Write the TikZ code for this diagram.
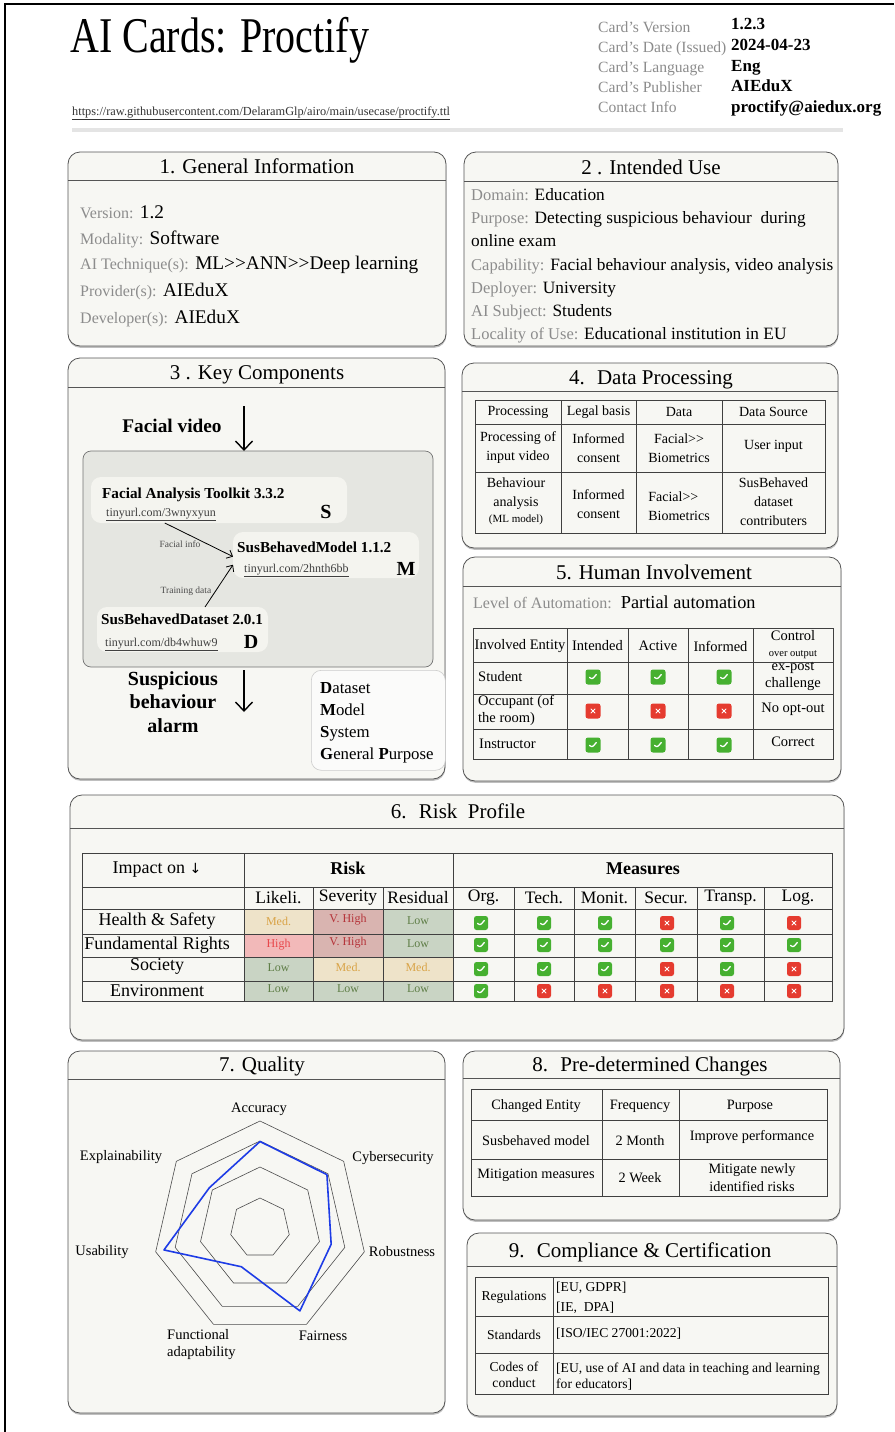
\documentclass[tikz,border=0pt]{standalone}
\usepackage{fontspec}
\setmainfont{Liberation Serif}
\newfontfamily\symfont{DejaVu Sans}
\usetikzlibrary{arrows.meta,shadows,calc}

\definecolor{cardbg}{HTML}{F7F7F3}
\definecolor{labgray}{HTML}{8C8C8C}
\definecolor{edgecol}{HTML}{555555}
\definecolor{innerbg}{HTML}{E5E6E1}
\definecolor{compbg}{HTML}{F4F4EF}
\definecolor{okgreen}{HTML}{46B030}
\definecolor{nored}{HTML}{E53B2F}
\definecolor{medbg}{HTML}{EEE3C9}
\definecolor{medtx}{HTML}{D9A346}
\definecolor{vhbg}{HTML}{D9B4B0}
\definecolor{vhtx}{HTML}{B5343A}
\definecolor{lowbg}{HTML}{C9D4C4}
\definecolor{lowtx}{HTML}{5E7D46}
\definecolor{hibg}{HTML}{F2B9B9}
\definecolor{hitx}{HTML}{E8474B}
\definecolor{radarblue}{HTML}{1E3CE6}
\definecolor{barcol}{HTML}{E4E4E4}

\newcommand\fsz[2]{\fontsize{#1}{#2}\selectfont}
\newcommand\lab[2][16]{{\color{labgray}\fsz{#1}{#1}#2}}
\newcommand\dblgt{>\kern0pt>}

\tikzset{
  card/.style={draw=edgecol, line width=0.8pt, rounded corners=12pt, fill=cardbg,
    drop shadow={shadow xshift=0.3pt, shadow yshift=-1.8pt, opacity=0.45, fill=black!55},
    anchor=north west, inner sep=0pt, outer sep=0pt},
  cardtitle/.style={anchor=base, inner sep=0pt, font=\fsz{21}{25}},
  titlerule/.style={draw=edgecol, line width=0.7pt},
  grid/.style={draw=black!75, line width=0.7pt},
  txt/.style={anchor=base west, inner sep=0pt},
  cell/.style={anchor=center, align=center, inner sep=0pt, font=\fsz{14}{19}},
  hcell/.style={cell, font=\fsz{14.5}{17}},
  icon/.style={minimum size=14pt, inner sep=0pt, rounded corners=2.5pt},
  okicon/.style={icon, fill=okgreen, path picture={
      \draw[white, line width=1.3pt, line cap=round, line join=round]
        ($(path picture bounding box.center)+(-3.4,0.3)$) -- ++(2.3,2.4) -- ++(4.4,-5.2);}},
  noicon/.style={icon, fill=nored, path picture={
      \draw[white, line width=1pt, line cap=round]
        ($(path picture bounding box.center)+(-2,-2)$) -- ++(4,4)
        ($(path picture bounding box.center)+(-2,2)$) -- ++(4,-4);}},
  flow/.style={-{Straight Barb[length=5pt,width=9pt]}, line width=0.8pt},
  bigflow/.style={-{Straight Barb[length=9pt,width=17pt]}, line width=1.4pt},
  comp/.style={fill=compbg, rounded corners=10pt, anchor=north west, inner sep=0pt, outer sep=0pt},
  ring/.style={draw=black!70, line width=0.6pt},
  radarlab/.style={inner sep=0pt, font=\fsz{14.5}{17}},
  risktx/.style={inner sep=0pt, font=\fsz{12}{14}},
}

\begin{document}
\begin{tikzpicture}[x=1pt,y=-1pt]
\useasboundingbox (0,0) rectangle (894,1432);
\fill[white] (0,0) rectangle (894,1432);
\draw[line width=1.2pt] (5,1432) -- (5,4) -- (894,4);

% ---------- header
\node[txt] (title) at (70,52) {\scalebox{0.8}[1]{\fsz{50}{50}AI Cards: Proctify}};
\node[txt, text=black!80] (url) at (72,115) {\fsz{12.3}{12.3}\underline{https://raw.githubusercontent.com/DelaramGlp/airo/main/usecase/proctify.ttl}};
\fill[barcol] (72,127.5) rectangle (843,131.5);
\node[txt, text=labgray, font=\fsz{15.6}{18}] (k1) at (598,32) {Card’s Version};
\node[txt, text=labgray, font=\fsz{15.6}{18}] (k2) at (598,52) {Card’s Date (Issued)};
\node[txt, text=labgray, font=\fsz{15.6}{18}] (k3) at (598,72) {Card’s Language};
\node[txt, text=labgray, font=\fsz{15.6}{18}] (k4) at (598,92) {Card’s Publisher};
\node[txt, text=labgray, font=\fsz{15.6}{18}] (k5) at (598,112) {Contact Info};
\node[txt, font=\bfseries\fsz{17}{20}] (v1) at (731,29) {1.2.3};
\node[txt, font=\bfseries\fsz{17}{20}] (v2) at (731,50) {2024-04-23};
\node[txt, font=\bfseries\fsz{17}{20}] (v3) at (731,71) {Eng};
\node[txt, font=\bfseries\fsz{17}{20}] (v4) at (731,91) {AIEduX};
\node[txt, font=\bfseries\fsz{17}{20}] (v5) at (731,112) {proctify@aiedux.org};

% ---------- 1. General Information
\node[card, minimum width=378pt, minimum height=194pt] (gen) at (68,152) {};
\draw[titlerule] (68,180) -- (446,180);
\node[cardtitle] (gent) at (257,173) {1. General Information};
\node[txt, font=\fsz{19.3}{22}] (g1) at (80,218) {\lab{Version:} 1.2};
\node[txt, font=\fsz{19.3}{22}] (g2) at (80,244) {\lab{Modality:} Software};
\node[txt, font=\fsz{19.3}{22}] (g3) at (80,269) {\lab{AI Technique(s):} ML\dblgt ANN\dblgt Deep learning};
\node[txt, font=\fsz{19.3}{22}] (g4) at (80,296) {\lab{Provider(s):} AIEduX};
\node[txt, font=\fsz{19.3}{22}] (g5) at (80,323) {\lab{Developer(s):} AIEduX};

% ---------- 2. Intended Use
\node[card, minimum width=374pt, minimum height=194pt] (use) at (464,152) {};
\draw[titlerule] (464,181) -- (838,181);
\node[cardtitle] (uset) at (651,174) {2 . Intended Use};
\node[txt, font=\fsz{17.3}{21}] (u1) at (471,200) {\lab[16.5]{Domain:} Education};
\node[txt, font=\fsz{17.3}{21}] (u2) at (471,223) {\lab[16.5]{Purpose:} Detecting suspicious behaviour~ during};
\node[txt, font=\fsz{17.3}{21}] (u3) at (471,246) {online exam};
\node[txt, font=\fsz{17.3}{21}] (u4) at (471,270) {\lab[16.5]{Capability:} Facial behaviour analysis, video analysis};
\node[txt, font=\fsz{17.3}{21}] (u5) at (471,293) {\lab[16.5]{Deployer:} University};
\node[txt, font=\fsz{17.3}{21}] (u6) at (471,316) {\lab[16.5]{AI Subject:} Students};
\node[txt, font=\fsz{17.3}{21}] (u7) at (471,339) {\lab[16.5]{Locality of Use:} Educational institution in EU};

% ---------- 3. Key Components
\node[card, minimum width=377pt, minimum height=421pt] (kc) at (68,358) {};
\draw[titlerule] (68,387) -- (445,387);
\node[cardtitle] (kct) at (257,379) {3 . Key Components};
\node[anchor=base, inner sep=0pt, font=\bfseries\fsz{19.3}{23}] (fv) at (172,432) {Facial video};
\node[fill=innerbg, draw=black!55, line width=0.7pt, rounded corners=8pt, anchor=north west,
      minimum width=350pt, minimum height=216pt, inner sep=0pt, outer sep=0pt] (inner) at (83,451) {};
\node[comp, minimum width=256pt, minimum height=46pt] (sbox) at (91,477) {};
\node[comp, minimum width=186pt, minimum height=46pt] (mbox) at (233,532) {};
\node[comp, minimum width=171pt, minimum height=45pt] (dbox) at (97,607) {};
\node[txt, font=\bfseries\fsz{15.2}{18}] (stitle) at (102,498) {Facial Analysis Toolkit 3.3.2};
\node[txt, font=\fsz{12}{14}, text=black!75] (slink) at (106,516) {\underline{tinyurl.com/3wnyxyun}};
\node[anchor=base, inner sep=0pt, font=\bfseries\fsz{20}{20}] (sl) at (326,518) {S};
\node[txt, font=\bfseries\fsz{15.2}{18}] (mtitle) at (237,552) {SusBehavedModel 1.1.2};
\node[txt, font=\fsz{12}{14}, text=black!75] (mlink) at (244,572) {\underline{tinyurl.com/2hnth6bb}};
\node[anchor=base, inner sep=0pt, font=\bfseries\fsz{20}{20}] (ml) at (406,575) {M};
\node[txt, font=\bfseries\fsz{15.2}{18}] (dtitle) at (101,624) {SusBehavedDataset 2.0.1};
\node[txt, font=\fsz{12}{14}, text=black!75] (dlink) at (105,646) {\underline{tinyurl.com/db4whuw9}};
\node[anchor=base, inner sep=0pt, font=\bfseries\fsz{20}{20}] (dl) at (251,648) {D};
\draw[flow] (sbox.203.7) -- (mbox.181);
\draw[flow] (dbox.45) -- (mbox.186);
\node[inner sep=0pt, font=\fsz{9.5}{11}, text=black!70] (fi) at (180,544) {Facial info};
\node[inner sep=0pt, font=\fsz{9.5}{11}, text=black!70] (td) at (186,591) {Training data};
\coordinate (fvstart) at (244,406);
\draw[bigflow] (fvstart) -- (fvstart |- inner.north);
\coordinate (alarmend) at (244,712);
\draw[bigflow, shorten <=3pt] (inner.south -| alarmend) -- (alarmend);
\node[align=center, inner sep=0pt, font=\bfseries\fsz{20}{23.5}] (alarm) at (173,702) {Suspicious\\behaviour\\alarm};
\node[fill=white!55!cardbg, draw=black!20, line width=0.6pt, rounded corners=10pt, anchor=north west,
      minimum width=134pt, minimum height=100pt, inner sep=0pt] (legend) at (311,670) {};
\node[txt, font=\fsz{16.8}{20}] (lg1) at (320,693) {\textbf{D}ataset};
\node[txt, font=\fsz{16.8}{20}] (lg2) at (320,715) {\textbf{M}odel};
\node[txt, font=\fsz{16.8}{20}] (lg3) at (320,737) {\textbf{S}ystem};
\node[txt, font=\fsz{16.8}{20}] (lg4) at (320,759) {\textbf{G}eneral \textbf{P}urpose};

% ---------- 4. Data Processing
\node[card, minimum width=376pt, minimum height=185pt] (dp) at (462,363) {};
\draw[titlerule] (462,391) -- (838,391);
\node[cardtitle] (dpt) at (651,384) {4.~ Data Processing};
\draw[grid] (475,400) rectangle (825,533);
\foreach \x in {561,636,722} \draw[grid] (\x,400) -- (\x,533);
\foreach \y in {424,472} \draw[grid] (475,\y) -- (825,\y);
\node[cell] (dph1) at (518,412) {Processing};
\node[cell] (dph2) at (598.5,412) {Legal basis};
\node[cell] (dph3) at (679,412) {Data};
\node[cell] (dph4) at (773.5,412) {Data Source};
\node[cell] (dpa1) at (518,448) {Processing of\\input video};
\node[cell] (dpa2) at (598.5,448) {Informed\\consent};
\node[cell] (dpa3) at (679,448) {Facial\dblgt\\Biometrics};
\node[cell] (dpa4) at (773.5,446) {User input};
\node[cell] (dpb1) at (516,501) {Behaviour\\analysis\\[-3pt]{\fsz{11}{13}(ML model)}};
\node[cell] (dpb2) at (598.5,504) {Informed\\consent};
\node[cell, align=left] (dpb3) at (679,506) {Facial\dblgt\\Biometrics};
\node[cell] (dpb4) at (773.5,502) {SusBehaved\\dataset\\contributers};

% ---------- 5. Human Involvement
\node[card, minimum width=378pt, minimum height=224pt] (hi) at (463,557) {};
\draw[titlerule] (463,586) -- (841,586);
\node[cardtitle] (hit) at (654,579) {5. Human Involvement};
\node[txt, font=\fsz{18.3}{22}] (loa) at (473,608) {\lab{Level of Automation:}\hspace{3pt} Partial automation};
\draw[grid] (473,628) rectangle (833,759);
\foreach \x in {567,628,688,753} \draw[grid] (\x,628) -- (\x,759);
\foreach \y in {662,694,729} \draw[grid] (473,\y) -- (833,\y);
\node[hcell] (hih1) at (520,646) {Involved Entity};
\node[hcell] (hih2) at (597.5,646) {Intended};
\node[hcell] (hih3) at (658,646) {Active};
\node[hcell] (hih4) at (720.5,646) {Informed};
\node[hcell] (hih5) at (793,636) {Control};
\node[cell, font=\fsz{10.5}{12}] (hih6) at (793,655) {over output};
\node[txt, font=\fsz{14.5}{17}] (hir1) at (478,681) {Student};
\node[hcell] (hir1c) at (793,676.5) {ex-post\\challenge};
\node[hcell, anchor=west, align=left] (hir2) at (478,710.5) {Occupant (of\\the room)};
\node[hcell] (hir2c) at (793,709) {No opt-out};
\node[txt, font=\fsz{14.5}{17}] (hir3) at (479,748) {Instructor};
\node[hcell] (hir3c) at (793,742) {Correct};
\foreach \x/\n in {593/a,658/b,724/c} {
  \node[okicon, minimum size=15pt] (stu-\n) at (\x,677) {};
  \node[noicon, minimum size=15pt] (occ-\n) at (\x,711) {};
  \node[okicon, minimum size=15pt] (ins-\n) at (\x,745) {};
}

% ---------- 6. Risk Profile
\node[card, minimum width=774pt, minimum height=245pt] (rp) at (70,795) {};
\draw[titlerule] (70,828) -- (844,828);
\node[cardtitle] (rpt) at (458,818) {6.~ Risk~ Profile};
% level colours
\fill[medbg] (244,909) rectangle (313,934);
\fill[vhbg]  (313,909) rectangle (383,934);
\fill[lowbg] (383,909) rectangle (453,934);
\fill[hibg]  (244,934) rectangle (313,957);
\fill[vhbg]  (313,934) rectangle (383,957);
\fill[lowbg] (383,934) rectangle (453,957);
\fill[lowbg] (244,957) rectangle (313,981);
\fill[medbg] (313,957) rectangle (383,981);
\fill[medbg] (383,957) rectangle (453,981);
\fill[lowbg] (244,981) rectangle (453,1001);
% table rules
\draw[grid] (82,853) rectangle (832,1001);
\foreach \y in {887,909,934,957,981} \draw[grid] (82,\y) -- (832,\y);
\foreach \x in {244,453} \draw[grid] (\x,853) -- (\x,1001);
\foreach \x in {313,383,514,574,635,697,764} \draw[grid] (\x,887) -- (\x,1001);
\node[cell, font=\fsz{18}{20}] (imp) at (157,870) {Impact on {\symfont\fsz{14}{14}↓}};
\node[cell, font=\bfseries\fsz{18}{20}] (riskh) at (348,868) {Risk};
\node[cell, font=\bfseries\fsz{18}{20}] (meash) at (643,869) {Measures};
\foreach \x/\t/\n in {278.5/Likeli./c1,348/Severity/c2,418/Residual/c3,483.5/Org./c4,544/Tech./c5,604.5/Monit./c6,666/Secur./c7,730.5/Transp./c8,798/Log./c9}
  \node[cell, font=\fsz{17.5}{20}] (\n) at (\x,898) {\t};
\node[cell, font=\fsz{18}{20}] (rowa) at (157,921) {Health \& Safety};
\node[cell, font=\fsz{18}{20}] (rowb) at (157,945) {Fundamental Rights};
\node[cell, font=\fsz{18}{20}] (rowc) at (157,966) {Society};
\node[cell, font=\fsz{18}{20}] (rowd) at (157,991) {Environment};
\node[risktx, text=medtx] (la) at (278.5,921) {Med.};
\node[risktx, text=vhtx]  (sa) at (348,920) {V. High};
\node[risktx, text=lowtx] (ra) at (418,921) {Low};
\node[risktx, text=hitx]  (lb) at (278.5,945) {High};
\node[risktx, text=vhtx]  (sb) at (348,943) {V. High};
\node[risktx, text=lowtx] (rb) at (418,944) {Low};
\node[risktx, text=lowtx] (lc) at (278.5,968) {Low};
\node[risktx, text=medtx] (sc) at (348,967) {Med.};
\node[risktx, text=medtx] (rc) at (418,967) {Med.};
\node[risktx, text=lowtx] (ld) at (278.5,989) {Low};
\node[risktx, text=lowtx] (sd) at (348,989) {Low};
\node[risktx, text=lowtx] (rd) at (418,989) {Low};
% measure marks
\foreach \x/\n in {481/org,544/tech,605/mon,727/tra} \node[okicon] (hs-\n) at (\x,923) {};
\foreach \x/\n in {667/sec,794/log} \node[noicon] (hs-\n) at (\x,923) {};
\foreach \x/\n in {481/org,544/tech,605/mon,667/sec,727/tra,794/log} \node[okicon] (fr-\n) at (\x,945) {};
\foreach \x/\n in {481/org,544/tech,605/mon,727/tra} \node[okicon] (so-\n) at (\x,969) {};
\foreach \x/\n in {667/sec,794/log} \node[noicon] (so-\n) at (\x,969) {};
\node[okicon] (en-org) at (481,991) {};
\foreach \x/\n in {544/tech,605/mon,667/sec,727/tra,794/log} \node[noicon] (en-\n) at (\x,991) {};

% ---------- 7. Quality
\node[card, minimum width=377pt, minimum height=362pt] (ql) at (68,1051) {};
\draw[titlerule] (68,1079) -- (445,1079);
\node[cardtitle] (qlt) at (262,1071) {7. Quality};
\begin{scope}[shift={(260,1228)}, y=1pt]
  \foreach \r in {30,61,87,107}
    \draw[ring] (90:\r) \foreach \k in {1,...,6} { -- ({90-\k*360/7}:\r) } -- cycle;
  \draw[radarblue, line width=1.6pt, line join=round]
    (90:86.5) -- (38.57:85.6) -- (-12.86:73) -- (-64.29:92) -- (-115.71:43)
    -- (-167.14:98.5) -- (141.43:64.7) -- cycle;
\end{scope}
\node[radarlab] (q1) at (259,1109) {Accuracy};
\node[radarlab] (q2) at (393,1158) {Cybersecurity};
\node[radarlab] (q3) at (402,1252) {Robustness};
\node[radarlab] (q4) at (323,1336) {Fairness};
\node[radarlab, align=left, anchor=north west] (q5) at (167,1329) {Functional\\adaptability};
\node[radarlab] (q6) at (102,1252) {Usability};
\node[radarlab] (q7) at (121,1157) {Explainability};

% ---------- 8. Pre-determined Changes
\node[card, minimum width=377pt, minimum height=169pt] (pc) at (463,1051) {};
\draw[titlerule] (463,1078) -- (840,1078);
\node[cardtitle] (pct) at (650,1071) {8.~ Pre-determined Changes};
\draw[grid] (471,1089) rectangle (827,1196);
\foreach \x in {602,679} \draw[grid] (\x,1089) -- (\x,1196);
\foreach \y in {1120,1159} \draw[grid] (471,\y) -- (827,\y);
\node[cell, font=\fsz{14.3}{18}] (pch1) at (536,1106) {Changed Entity};
\node[cell, font=\fsz{14.3}{18}] (pch2) at (640,1106) {Frequency};
\node[cell, font=\fsz{14.3}{18}] (pch3) at (750,1106) {Purpose};
\node[cell, font=\fsz{14.3}{18}] (pca1) at (536,1141) {Susbehaved model};
\node[cell, font=\fsz{14.3}{18}] (pca2) at (640,1141) {2 Month};
\node[cell, font=\fsz{14.3}{18}] (pca3) at (752,1137) {Improve performance};
\node[cell, font=\fsz{14.3}{18}] (pcb1) at (536,1175) {Mitigation measures};
\node[cell, font=\fsz{14.3}{18}] (pcb2) at (640,1178) {2 Week};
\node[cell, font=\fsz{14.3}{18}] (pcb3) at (752,1178) {Mitigate newly\\identified risks};

% ---------- 9. Compliance & Certification
\node[card, minimum width=370pt, minimum height=183pt] (cc) at (467,1233) {};
\draw[titlerule] (467,1266) -- (837,1266);
\node[cardtitle] (cct) at (640,1257) {9.~ Compliance \& Certification};
\draw[grid] (475,1277) rectangle (828,1394);
\draw[grid] (553,1277) -- (553,1394);
\foreach \y in {1316,1353} \draw[grid] (475,\y) -- (828,\y);
\node[cell, font=\fsz{13.6}{16}] (ccr) at (514,1297) {Regulations};
\node[txt, font=\fsz{13.6}{16}] (ccr1) at (556,1291) {[EU, GDPR]};
\node[txt, font=\fsz{13.6}{16}] (ccr2) at (556,1311) {[IE,~ DPA]};
\node[cell, font=\fsz{13.6}{16}] (ccs) at (514,1335) {Standards};
\node[txt, font=\fsz{13.6}{16}] (ccs1) at (556,1337) {[ISO/IEC 27001:2022]};
\node[cell, font=\fsz{13.6}{16}] (ccc) at (514,1375) {Codes of\\conduct};
\node[txt, font=\fsz{13.6}{16}] (ccc1) at (556,1372) {[EU, use of AI and data in teaching and learning};
\node[txt, font=\fsz{13.6}{16}] (ccc2) at (556,1388) {for educators]};
\end{tikzpicture}
\end{document}
